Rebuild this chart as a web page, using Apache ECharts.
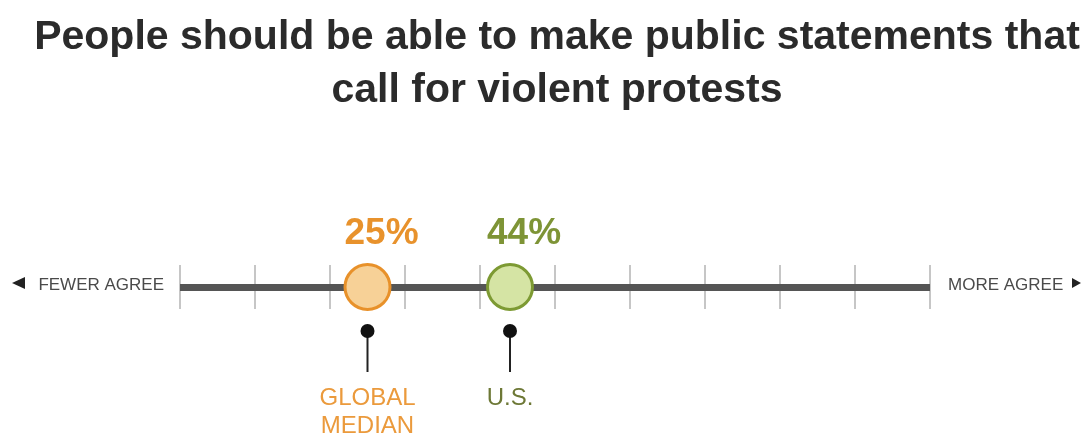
<!DOCTYPE html>
<html>
<head>
<meta charset="utf-8">
<script src="https://cdn.jsdelivr.net/npm/echarts@6/dist/echarts.min.js"></script>
<style>
  html, body { margin: 0; padding: 0; background: #fff; }
  #chart { width: 1081px; height: 439px; }
</style>
</head>
<body>
<div id="chart"></div>
<script>
// data
const labels = ['GLOBAL\nMEDIAN', 'U.S.'];
const values = [25, 44];
const axisMin = 0;
const axisMax = 100;
const tickStep = 10;

// colours for each marker
const fills = ['#f7d197', '#d5e4a4'];
const borders = ['#e8912a', '#7d9a33'];
const pctColors = ['#e8922c', '#7e9436'];
const nameColors = ['#eb9a3c', '#6d7836'];

const FONT = '"Liberation Sans", Arial, sans-serif';

const myChart = echarts.init(document.getElementById('chart'));

const option = {
  animation: false,
  backgroundColor: '#fff',
  title: {
    text: 'People should be able to make public statements that\ncall for violent protests',
    left: 552,
    top: 6,
    textAlign: 'center',
    textStyle: {
      fontFamily: FONT,
      fontSize: 41,
      fontWeight: 'bold',
      color: '#2b2b2b',
      lineHeight: 53,
      align: 'center',
    },
  },
  grid: { left: 180, right: 151, top: 265, height: 44 },
  xAxis: {
    type: 'value',
    min: axisMin,
    max: axisMax,
    interval: tickStep,
    axisLine: { show: true, onZero: true, lineStyle: { color: '#555', width: 7, cap: 'butt' } },
    axisTick: { show: false },
    axisLabel: { show: false },
    splitLine: { show: true, lineStyle: { color: '#c6c6c6', width: 2 } },
  },
  yAxis: {
    type: 'value',
    min: -1,
    max: 1,
    show: false,
    splitLine: { show: false },
  },
  graphic: [
    { type: 'polygon', shape: { points: [[12, 283], [25, 277], [25, 289]] }, style: { fill: '#222' } },
    {
      type: 'text', right: 1081 - 164, top: 277,
      style: { text: 'FEWER AGREE', font: '17px ' + FONT, fill: '#4a4a4a', textAlign: 'right' },
    },
    {
      type: 'text', left: 948, top: 277,
      style: { text: 'MORE AGREE', font: '17px ' + FONT, fill: '#4a4a4a' },
    },
    { type: 'polygon', shape: { points: [[1081, 283], [1072, 278], [1072, 288]] }, style: { fill: '#222' } },
  ],
  series: [
    {
      // pins under the axis with their labels
      type: 'custom',
      data: values.map((v, i) => [v, i]),
      renderItem: (params, api) => {
        const i = api.value(1);
        const pt = api.coord([api.value(0), 0]);
        return {
          type: 'group',
          children: [
            {
              type: 'line',
              shape: { x1: pt[0], y1: pt[1] + 44, x2: pt[0], y2: pt[1] + 85 },
              style: { stroke: '#222', lineWidth: 2 },
            },
            {
              type: 'circle',
              shape: { cx: pt[0], cy: pt[1] + 44, r: 7 },
              style: { fill: '#111' },
            },
            {
              type: 'text',
              x: pt[0],
              y: pt[1] + 97,
              style: {
                text: labels[i],
                font: '24px ' + FONT,
                lineHeight: 28,
                fill: nameColors[i],
                textAlign: 'center',
                textVerticalAlign: 'top',
              },
            },
          ],
        };
      },
      z: 3,
    },
    {
      type: 'scatter',
      symbol: 'circle',
      symbolSize: 45,
      data: values.map((v, i) => ({
        value: [v, 0],
        itemStyle: { color: fills[i], borderColor: borders[i], borderWidth: 3, opacity: 1 },
        label: { color: pctColors[i] },
      })),
      label: {
        show: true,
        position: 'top',
        distance: 11,
        offset: [14, 0],
        formatter: (p) => p.value[0] + '%',
        fontFamily: FONT,
        fontSize: 37,
        fontWeight: 'bold',
        lineHeight: 37,
      },
      z: 4,
    },
  ],
};

myChart.setOption(option);
</script>
</body>
</html>
